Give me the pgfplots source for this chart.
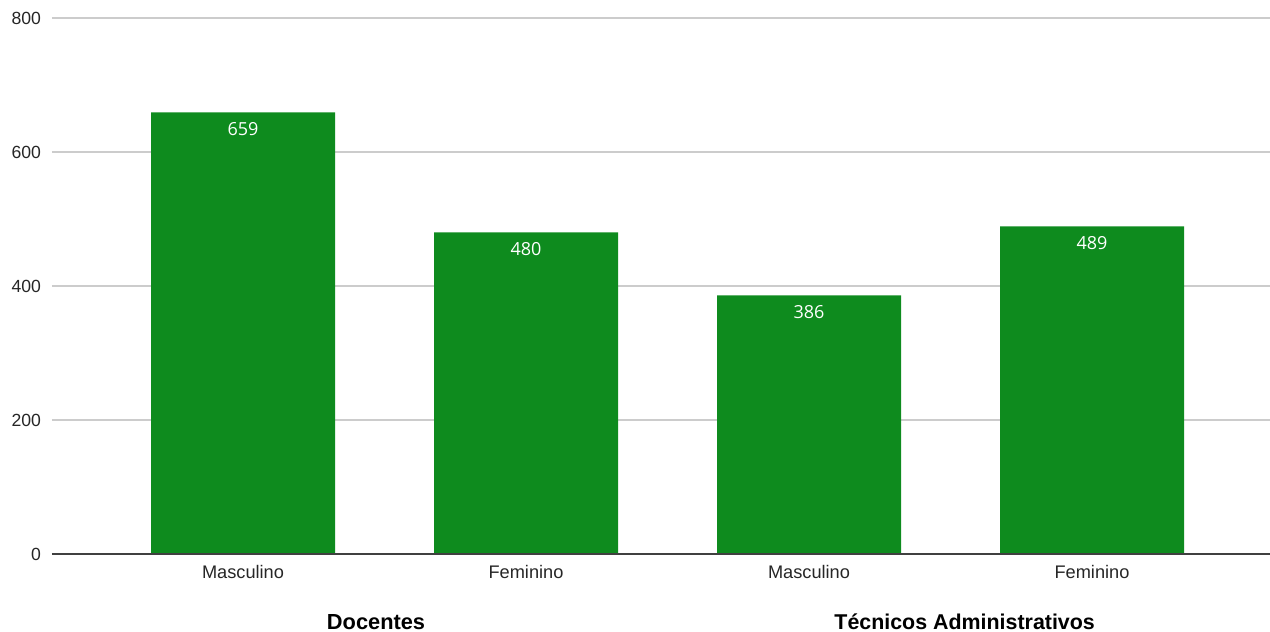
\documentclass[border=0pt]{standalone}
\usepackage{pgfplots}
\pgfplotsset{compat=1.18}
\usepackage{fontspec}
\setmainfont{Liberation Sans}
\newfontfamily\lblfont{Open Sans}
\definecolor{barg}{HTML}{0E8B1E}
\definecolor{gridc}{HTML}{CCCCCC}
\begin{document}
\begin{tikzpicture}
\begin{axis}[
  name=ax,
  scale only axis,
  width=609pt, height=268pt,
  xmin=-0.675, xmax=3.629,
  ymin=0, ymax=800,
  ytick={0,200,400,600,800},
  xtick={0,1,2,3},
  xticklabels={Masculino,Feminino,Masculino,Feminino},
  axis line style={draw=none},
  axis x line*=bottom,
  ymajorgrids,
  grid style={gridc, line width=0.6pt},
  major tick length=0pt,
  yticklabel style={font=\fontsize{8.8}{10}\selectfont, text=black!85, xshift=-2pt},
  xticklabel style={font=\fontsize{9.1}{10}\selectfont, text=black!85, anchor=north, yshift=-2pt},
  /pgf/number format/assume math mode=true,
  clip=false,
  ybar, bar width=92pt,
  nodes near coords,
  nodes near coords style={anchor=north, yshift=-1.5pt, text=white, font=\lblfont\fontsize{9}{10}\selectfont},
]
\addplot[fill=barg, draw=none] coordinates {(0,659) (1,480) (2,386) (3,489)};
\draw[black!75, line width=0.7pt] (axis cs:-0.675,0) -- (axis cs:3.629,0);
\node[font=\bfseries\fontsize{10.9}{12}\selectfont, yshift=-34pt] at (axis cs:0.47,0) {Docentes};
\node[font=\bfseries\fontsize{10.7}{12}\selectfont, yshift=-34pt] at (axis cs:2.55,0) {Técnicos Administrativos};
\end{axis}
\pgfresetboundingbox
\path ([xshift=-26pt,yshift=-39pt]ax.south west) rectangle ([yshift=9pt]ax.north east);
\end{tikzpicture}
\end{document}
